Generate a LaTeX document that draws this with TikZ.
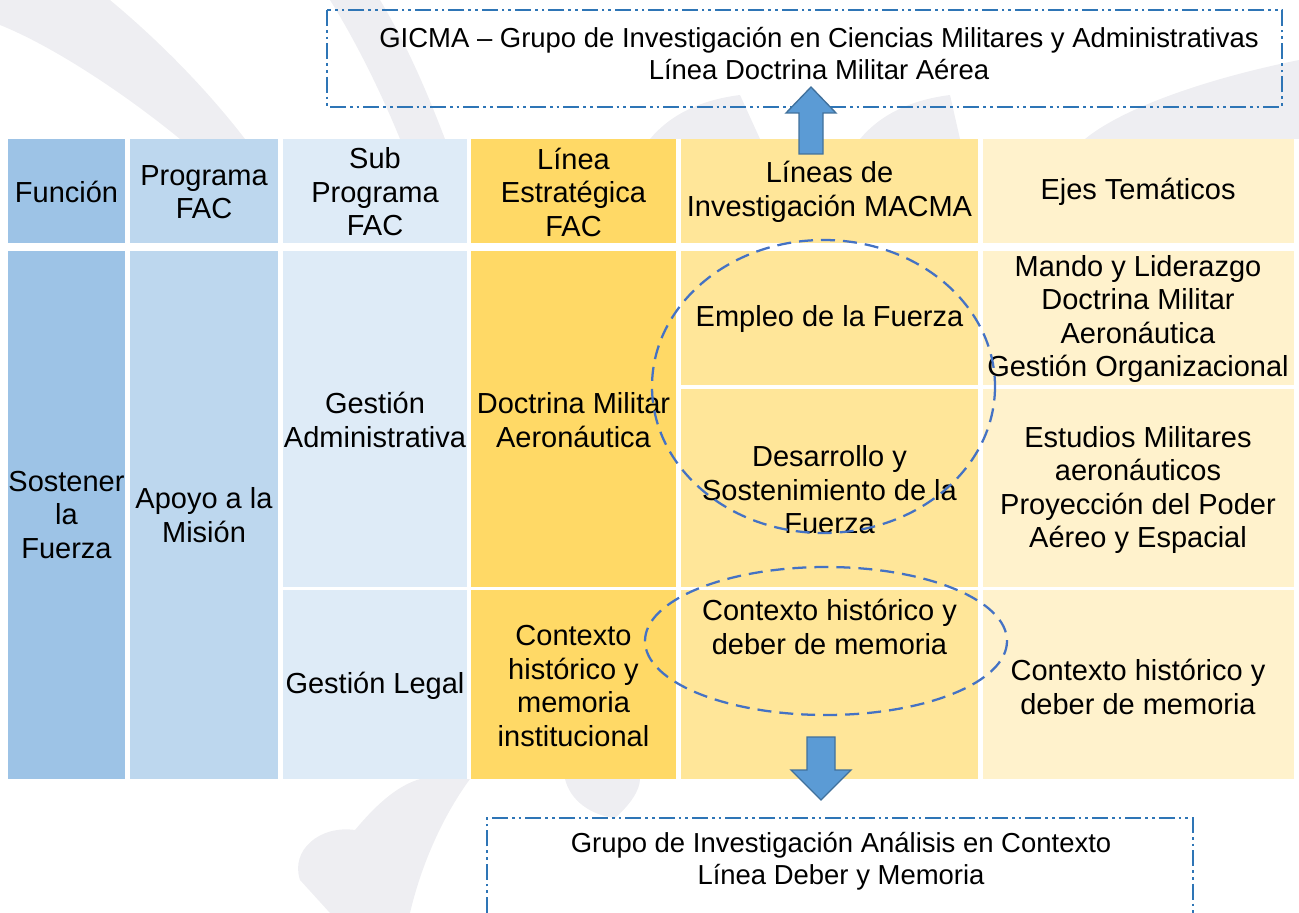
\documentclass[tikz,border=0pt]{standalone}
\usepackage{fontspec}
\setmainfont{Liberation Sans}
\definecolor{cA}{HTML}{9DC3E6}
\definecolor{cB}{HTML}{BDD7EE}
\definecolor{cC}{HTML}{DEEBF7}
\definecolor{cD}{HTML}{FFD966}
\definecolor{cE}{HTML}{FFE699}
\definecolor{cF}{HTML}{FFF2CC}
\definecolor{boxblue}{HTML}{2E75B6}
\definecolor{ellblue}{HTML}{4472C4}
\definecolor{arrfill}{HTML}{5B9BD5}
\definecolor{arrdraw}{HTML}{41719C}
\definecolor{wm}{HTML}{EEEEF2}
\begin{document}
\begin{tikzpicture}[x=0.75pt,y=-0.75pt,
  txt/.style={align=center, font=\fontsize{21.75}{25.1}\selectfont, inner sep=0pt},
  boxtxt/.style={align=center, font=\fontsize{20.6}{24}\selectfont, inner sep=0pt},
  grpbox/.style={draw=boxblue, line width=1.9pt, dash pattern=on 12pt off 3pt on 2pt off 3pt on 2pt off 3pt},
  ring/.style={draw=ellblue, line width=1.7pt, dash pattern=on 10.5pt off 6pt},
  blockarrow/.style={fill=arrfill, draw=arrdraw, line width=1pt, line join=miter}]
\path[use as bounding box] (0,0) rectangle (1299,913);
\clip (0,0) rectangle (1299,913);
% watermark
\fill[wm] (0,0) -- (110,0) .. controls (170,50) and (215,100) .. (245,139) -- (180,139) .. controls (120,90) and (50,45) .. (0,25) -- cycle;
\fill[wm] (330,0) -- (380,0) .. controls (410,50) and (430,100) .. (445,139) -- (400,139) .. controls (380,90) and (355,40) .. (330,0) -- cycle;
\fill[wm] (650,139) .. controls (670,115) and (700,100) .. (740,95) -- (760,139) -- cycle;
\fill[wm] (860,139) .. controls (880,115) and (910,100) .. (950,95) -- (960,139) -- cycle;
\fill[wm] (1299,60) .. controls (1200,80) and (1120,110) .. (1085,139) -- (1299,139) -- cycle;
\fill[wm] (330,913) -- (300,880) .. controls (290,850) and (320,825) .. (355,830) .. controls (380,800) and (400,785) .. (420,779) -- (470,779) .. controls (440,820) and (420,870) .. (410,913) -- cycle;
\fill[wm] (565,779) .. controls (570,800) and (590,815) .. (615,818) .. controls (630,805) and (640,790) .. (640,779) -- cycle;
% header cells
\fill[cA] (8,139) rectangle (125,243);
\fill[cB] (130,139) rectangle (278,243);
\fill[cC] (283,139) rectangle (467,243);
\fill[cD] (471,139) rectangle (676,243);
\fill[cE] (681,139) rectangle (978,243);
\fill[cF] (983,139) rectangle (1294,243);
% body cells
\fill[cA] (8,251) rectangle (125,779);
\fill[cB] (130,251) rectangle (278,779);
\fill[cC] (283,251) rectangle (467,587);
\fill[cC] (283,590) rectangle (467,779);
\fill[cD] (471,251) rectangle (676,587);
\fill[cD] (471,590) rectangle (676,779);
\fill[cE] (681,251) rectangle (978,385);
\fill[cE] (681,389) rectangle (978,587);
\fill[cE] (681,590) rectangle (978,779);
\fill[cF] (983,251) rectangle (1294,385);
\fill[cF] (983,389) rectangle (1294,587);
\fill[cF] (983,590) rectangle (1294,779);
% header texts
\node[txt] (hfun) at (66.5,192) {Función};
\node[txt] (hprog) at (204,192) {Programa\\FAC};
\node[txt] (hsub) at (375,192) {Sub\\Programa\\FAC};
\node[txt] (hlin) at (573.5,192) {Línea\\Estratégica\\FAC};
\node[txt] (hmac) at (829.5,192) {Líneas de\\Investigación MACMA};
\node[txt] (heje) at (1138,192) {Ejes Temáticos};
% body texts
\node[txt] (sost) at (66.5,515) {Sostener\\la\\Fuerza};
\node[txt] (apoyo) at (204,515) {Apoyo a la\\Misión};
\node[txt] (gadm) at (375,420) {Gestión\\Administrativa};
\node[txt] (gleg) at (375,686) {Gestión Legal};
\node[txt] (dma) at (573.5,420) {Doctrina Militar\\Aeronáutica};
\node[txt] (chmi) at (573.5,686) {Contexto\\histórico y\\memoria\\institucional};
\node[txt] (empleo) at (829.5,319) {Empleo de la Fuerza};
\node[txt] (desa) at (829.5,490) {Desarrollo y\\Sostenimiento de la\\Fuerza};
\node[txt] (chdm) at (829.5,627) {Contexto histórico y\\deber de memoria};
\node[txt] (ejeA) at (1138,319) {Mando y Liderazgo\\Doctrina Militar\\Aeronáutica\\Gestión Organizacional};
\node[txt] (ejeB) at (1138,490) {Estudios Militares\\aeronáuticos\\Proyección del Poder\\Aéreo y Espacial};
\node[txt] (ejeC) at (1138,687) {Contexto histórico y\\deber de memoria};
% group boxes
\draw[grpbox] (327,10) rectangle (1282,107);
\node[boxtxt] (gicma) at (819,54) {GICMA – Grupo de Investigación en Ciencias Militares y Administrativas\\Línea Doctrina Militar Aérea};
\draw[grpbox] (487,913) -- (487,818) -- (1193,818) -- (1193,913);
\node[boxtxt] (giac) at (841,861) {Grupo de Investigación Análisis en Contexto\\Línea Deber y Memoria};
% ellipses
\draw[ring] (823.5,386.5) ellipse [x radius=171.5, y radius=146.5];
\draw[ring] (826,641) ellipse [x radius=181, y radius=74];
% block arrows
\draw[blockarrow] (799,154) -- (799,113) -- (786,113) -- (811,87) -- (836,113) -- (823,113) -- (823,154) -- cycle;
\draw[blockarrow] (807,737) -- (807,770) -- (791,770) -- (821,800) -- (851,770) -- (835,770) -- (835,737) -- cycle;
\end{tikzpicture}
\end{document}
